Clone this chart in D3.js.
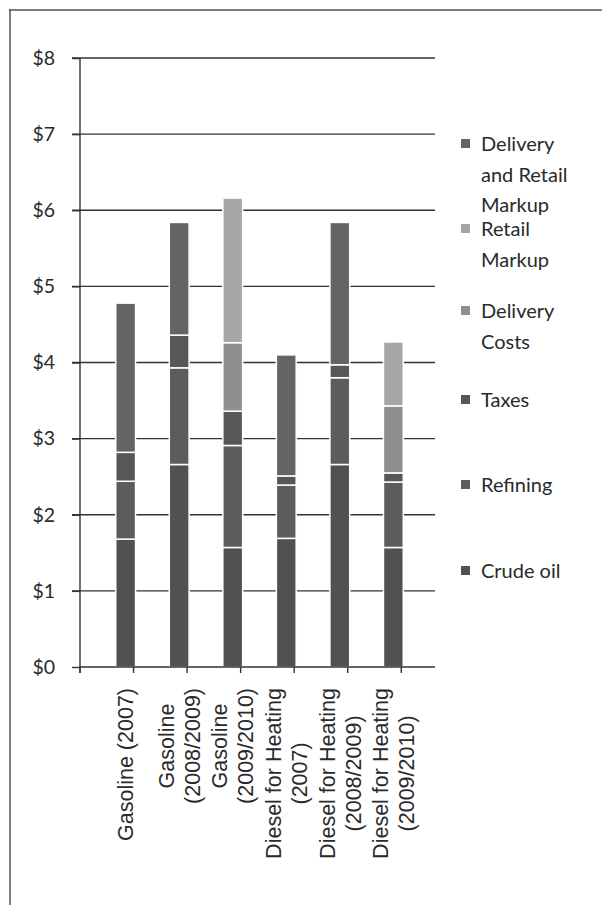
<!DOCTYPE html>
<html>
<head>
<meta charset="utf-8">
<script src="https://cdn.jsdelivr.net/npm/d3@7"></script>
<style>
  html, body { margin: 0; padding: 0; background: #fff; }
  svg { display: block; }
</style>
</head>
<body>
<svg id="chart" width="602" height="905"></svg>
<script>
// ---- data ----
const categories = [
  "Gasoline (2007)",
  "Gasoline\n(2008/2009)",
  "Gasoline\n(2009/2010)",
  "Diesel for Heating\n(2007)",
  "Diesel for Heating\n(2008/2009)",
  "Diesel for Heating\n(2009/2010)"
];
const seriesNames = ["Crude oil", "Refining", "Taxes", "Delivery Costs", "Retail Markup", "Delivery and Retail Markup"];
const crudeOil       = [1.68, 2.66, 1.57, 1.69, 2.66, 1.57];
const refining       = [0.76, 1.27, 1.34, 0.70, 1.14, 0.86];
const taxes          = [0.38, 0.43, 0.45, 0.12, 0.17, 0.12];
const deliveryCosts  = [0.00, 0.00, 0.90, 0.00, 0.00, 0.88];
const retailMarkup   = [0.00, 0.00, 1.90, 0.00, 0.00, 0.84];
const deliveryRetail = [1.96, 1.48, 0.00, 1.59, 1.87, 0.00];
const yTicks = [0, 1, 2, 3, 4, 5, 6, 7, 8];

const seriesValues = [crudeOil, refining, taxes, deliveryCosts, retailMarkup, deliveryRetail];
const colors = ["#515151", "#5c5c5c", "#575757", "#8f8f8f", "#a6a6a6", "#646464"];
const legendLines = [
  ["Delivery", "and Retail", "Markup"],
  ["Retail", "Markup"],
  ["Delivery", "Costs"],
  ["Taxes"],
  ["Refining"],
  ["Crude oil"]
];

const svg = d3.select("#chart");

// frame
svg.append("line").attr("x1", 10).attr("x2", 10).attr("y1", 9).attr("y2", 905)
  .attr("stroke", "#555").attr("stroke-width", 1.5);
svg.append("line").attr("x1", 9).attr("x2", 602).attr("y1", 10).attr("y2", 10)
  .attr("stroke", "#555").attr("stroke-width", 1.5);

const x0 = 80, x1 = 435;
const y = d3.scaleLinear().domain([0, 8]).range([667, 58]);
const x = d3.scaleBand().domain(d3.range(categories.length)).range([x0, x1]).padding(0.63);

// gridlines
svg.append("g").selectAll("line").data(yTicks.filter(d => d > 0)).join("line")
  .attr("x1", x0 - 8).attr("x2", x1)
  .attr("y1", d => y(d)).attr("y2", d => y(d))
  .attr("stroke", "#333").attr("stroke-width", 1.4);

// y axis
const yAxis = d3.axisLeft(y).tickValues(yTicks).tickSize(8).tickFormat(d => "$" + d);
const gy = svg.append("g").attr("transform", `translate(${x0},0)`).call(yAxis);
gy.select(".domain").remove();
gy.selectAll(".tick line").attr("stroke", "#333").attr("stroke-width", 1.4);
gy.selectAll(".tick text").attr("x", -25).attr("fill", "#2a2a2a")
  .style("font-family", "Lato, 'Open Sans', sans-serif").style("font-size", "19.5px");
svg.append("line").attr("x1", x0).attr("x2", x0).attr("y1", y(8)).attr("y2", y(0) + 6)
  .attr("stroke", "#333").attr("stroke-width", 1.4);

// bars
const stackData = categories.map((c, i) => {
  const o = { i };
  seriesNames.forEach((s, k) => o[s] = seriesValues[k][i]);
  return o;
});
const stacked = d3.stack().keys(seriesNames)(stackData);
const barOffset = 2;
svg.append("g").selectAll("g").data(stacked).join("g")
  .attr("fill", (d, k) => colors[k])
  .selectAll("rect").data(d => d.filter(p => p[1] - p[0] > 0)).join("rect")
  .attr("x", p => x(p.data.i) + barOffset)
  .attr("width", x.bandwidth())
  .attr("y", p => y(p[1]))
  .attr("height", p => y(p[0]) - y(p[1]))
  .attr("stroke", "#fff").attr("stroke-width", 1.5);

// x axis
svg.append("line").attr("x1", x0).attr("x2", x1).attr("y1", y(0)).attr("y2", y(0))
  .attr("stroke", "#333").attr("stroke-width", 1.4);
const step = x.step();
svg.append("g").selectAll("line").data(d3.range(categories.length + 1)).join("line")
  .attr("x1", k => x0 + k * step).attr("x2", k => x0 + k * step)
  .attr("y1", y(0)).attr("y2", y(0) + 6)
  .attr("stroke", "#333").attr("stroke-width", 1.4);

// x labels (rotated)
const labelTop = 688, lineGap = 26;
categories.forEach((c, i) => {
  const lines = c.split("\n");
  const cx = x(i) + x.bandwidth() / 2 + barOffset;
  const g = svg.append("g");
  const texts = lines.map((ln, j) => g.append("text").text(ln)
    .attr("text-anchor", "middle").attr("dy", "0.36em")
    .attr("fill", "#2a2a2a")
    .style("font-family", "'Liberation Sans', Arial, sans-serif").style("font-size", "21.5px"));
  const maxW = d3.max(texts, t => t.node().getComputedTextLength());
  texts.forEach((t, j) => {
    const lx = cx + (j - (lines.length - 1) / 2) * lineGap;
    const ly = labelTop + maxW / 2;
    t.attr("transform", `translate(${lx},${ly}) rotate(-90)`);
  });
});

// legend (reverse order)
const legendBaselines = [151, 236, 318, 407, 492, 578];
const legendLineH = 30.5;
const legendOrder = d3.range(seriesNames.length).reverse();
legendOrder.forEach((k, idx) => {
  const by = legendBaselines[idx];
  svg.append("rect").attr("x", 461).attr("y", by - 12).attr("width", 9).attr("height", 9)
    .attr("fill", colors[k]);
  const t = svg.append("text").attr("x", 481).attr("y", by).attr("fill", "#2a2a2a")
    .style("font-family", "Lato, 'Open Sans', sans-serif").style("font-size", "20px");
  legendLines[idx].forEach((ln, j) => {
    t.append("tspan").attr("x", 481).attr("y", by + j * legendLineH).text(ln);
  });
});
</script>
</body>
</html>
